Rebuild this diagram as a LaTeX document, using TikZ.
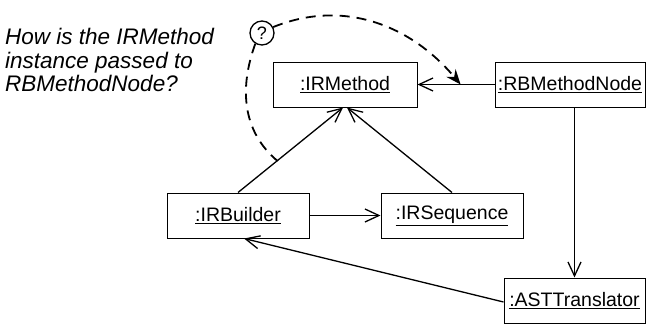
\documentclass[tikz,border=0pt]{standalone}
\usepackage{fontspec}
\setmainfont{Liberation Sans}
\usetikzlibrary{arrows.meta,calc}
\begin{document}
\begin{tikzpicture}[x=1pt,y=1pt,
  obj/.style={draw,line width=1pt,minimum height=45pt,inner sep=0pt,
    font=\fontsize{19.5}{23}\selectfont},
  link/.style={line width=1.3pt,-{Straight Barb[length=14pt,width=13pt]}},
  query/.style={line width=1.8pt,dash pattern=on 10pt off 7pt},
  qtip/.style={-{Stealth[length=15pt,width=12pt,inset=5pt]}},
  note/.style={anchor=base west,inner sep=0pt,font=\fontsize{22.5}{26}\selectfont\itshape},
  bubble/.style={circle,draw,line width=1.3pt,minimum size=24pt,inner sep=0pt,
    font=\fontsize{18}{20}\selectfont}]
\useasboundingbox (0,0) rectangle (646,325);

\node[note] (t1) at (5,280.5) {How is the IRMethod};
\node[note] (t2) at (5,257) {instance passed to};
\node[note] (t3) at (5,233.5) {RBMethodNode?};

\node[obj,minimum width=144pt] (irm) at (345,240.5) {\underline{:IRMethod}};
\node[obj,minimum width=150pt] (rbm) at (570,240.5) {\underline{:RBMethodNode}};
\node[obj,minimum width=142pt] (irb) at (238,109.5) {\underline{:IRBuilder}};
\node[obj,minimum width=142pt] (irs) at (452,109.5) {\underline{:IRSequence}};
\node[obj,minimum width=141pt] (ast) at (574.5,24.5) {\underline{:ASTTranslator}};

\node[bubble] (q) at (262,292) {?};

\draw[link] (rbm.west) -- (irm.east);
\draw[link] (irb.north) -- ([xshift=-2pt]irm.south);
\draw[link] (irs.north) -- ([xshift=2pt]irm.south);
\draw[link] (irb.east) -- (irs.west);
\draw[link] (ast.north |- rbm.south) -- (ast.north);
\draw[link] ([yshift=-1.5pt]ast.west) -- ([xshift=6pt]irb.south);

\coordinate (dm) at ($(irm.east)!0.56!(rbm.west)$);
\coordinate (db) at ($(irb.north)!0.37!(irm.south)$);
\draw[query,qtip] (q.28) to[out=22,in=130] (dm);
\draw[query] (q.238) to[out=250,in=140] (db);
\end{tikzpicture}
\end{document}
